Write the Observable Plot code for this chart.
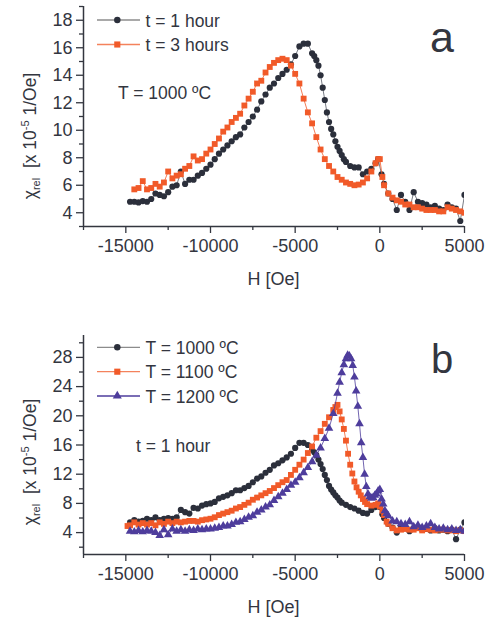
<!DOCTYPE html>
<html><head><meta charset="utf-8">
<script src="https://cdn.jsdelivr.net/npm/d3@7"></script>
<script src="https://cdn.jsdelivr.net/npm/@observablehq/plot@0.6"></script>
<style>
body{margin:0;background:#fff;width:489px;height:627px;position:relative;overflow:hidden;font-family:"Liberation Sans",Arial,sans-serif}
#a{position:absolute;left:0;top:0}
#b{position:absolute;left:0;top:320px}
</style></head><body><div id="a"></div><div id="b"></div>
<script>
// ---------- data ----------
const xDomain = [-17500, 5000];
const xMajor = [-15000, -10000, -5000, 0, 5000];
const xMinor = [-17500, -12500, -7500, -2500, 2500];
const yDomainA = [3, 19];
const yMajorA = [4, 6, 8, 10, 12, 14, 16, 18];
const yMinorA = [3, 5, 7, 9, 11, 13, 15, 17, 19];
const yDomainB = [1, 31];
const yMajorB = [4, 8, 12, 16, 20, 24, 28];
const yMinorB = [2, 6, 10, 14, 18, 22, 26, 30];

const legendA = ["t = 1 hour", "t = 3 hours"];
const noteA = "T = 1000 ºC";
const legendB = ["T = 1000 ºC", "T = 1100 ºC", "T = 1200 ºC"];
const noteB = "t = 1 hour";
const xLabel = "H [Oe]";

// panel a, T = 1000 ºC, t = 1 hour  [H (Oe), chi_rel (1e-5 1/Oe)]
const a_t1 = [[-14750,4.8],[-14500,4.8],[-14250,4.75],[-14000,4.85],[-13750,4.8],[-13500,5.0],[-13250,5.4],[-13000,5.3],[-12750,5.2],[-12500,5.5],[-12250,5.9],[-12000,6.0],[-11750,7.0],[-11500,6.1],[-11250,6.4],[-11000,6.4],[-10750,6.7],[-10500,6.9],[-10250,7.2],[-10000,7.5],[-9750,7.9],[-9500,8.3],[-9250,8.6],[-9000,8.9],[-8750,9.2],[-8500,9.5],[-8250,9.7],[-8000,10.2],[-7750,10.6],[-7500,11.0],[-7250,11.5],[-7000,12.1],[-6750,12.6],[-6500,13.1],[-6250,13.4],[-6000,13.8],[-5750,14.1],[-5500,14.4],[-5250,14.8],[-5000,15.4],[-4750,16.1],[-4500,16.3],[-4250,16.3],[-4000,15.6],[-3875,15.4],[-3750,15.1],[-3625,14.7],[-3500,14.0],[-3375,13.1],[-3250,12.2],[-3125,11.3],[-3000,10.6],[-2875,10.1],[-2750,9.7],[-2625,9.2],[-2500,8.8],[-2375,8.5],[-2250,8.2],[-2125,7.9],[-2000,7.7],[-1750,7.4],[-1500,7.3],[-1250,7.3],[-1000,6.8],[-750,7.0],[-500,7.2],[-250,7.6],[-100,7.9],[100,6.8],[250,6.1],[500,5.4],[750,5.0],[1000,4.2],[1250,5.3],[1500,4.8],[1750,4.2],[2000,5.5],[2250,4.8],[2500,4.7],[2750,4.6],[3000,4.4],[3250,4.5],[3500,4.3],[3750,4.2],[4000,4.6],[4250,4.4],[4500,4.3],[4750,3.4],[5000,5.3]];

// panel a, T = 1000 ºC, t = 3 hours
const a_t3 = [[-14500,5.7],[-14250,5.8],[-14000,6.3],[-13750,5.7],[-13500,5.8],[-13250,6.1],[-13000,5.9],[-12750,6.2],[-12500,7.0],[-12250,6.5],[-12000,6.7],[-11750,6.8],[-11500,7.2],[-11250,7.4],[-11000,8.1],[-10750,7.8],[-10500,7.9],[-10250,8.3],[-10000,8.6],[-9750,9.0],[-9500,9.4],[-9250,9.9],[-9000,10.2],[-8750,10.6],[-8500,10.9],[-8250,11.2],[-8000,11.8],[-7750,12.3],[-7500,12.8],[-7250,13.4],[-7000,13.6],[-6750,14.2],[-6500,14.6],[-6250,14.9],[-6000,15.1],[-5750,15.2],[-5500,15.1],[-5250,14.7],[-5000,14.1],[-4750,13.4],[-4500,12.3],[-4250,11.3],[-4000,10.5],[-3750,9.5],[-3500,8.6],[-3250,7.9],[-3000,7.4],[-2750,7.0],[-2500,6.6],[-2250,6.4],[-2000,6.2],[-1750,6.1],[-1500,6.0],[-1250,6.05],[-1000,6.2],[-750,6.5],[-500,7.0],[-250,7.6],[-100,7.9],[0,7.9],[150,6.6],[250,6.0],[500,5.4],[750,5.1],[1000,4.9],[1250,4.8],[1500,4.6],[1750,4.6],[2000,4.4],[2250,4.4],[2500,4.3],[2750,4.2],[3000,4.2],[3250,4.2],[3500,4.1],[3750,4.1],[4000,4.4],[4250,4.3],[4500,4.2],[4750,4.1],[5000,4.0]];

// panel b, t = 1 hour, T = 1000 ºC
const b_1000 = [[-14750,5.4],[-14500,5.7],[-14250,5.5],[-14000,5.6],[-13750,5.9],[-13500,5.7],[-13250,6.1],[-13000,5.7],[-12750,5.9],[-12500,6.0],[-12250,5.9],[-12000,6.1],[-11750,7.1],[-11500,6.8],[-11250,6.6],[-11000,7.4],[-10750,7.3],[-10500,7.7],[-10250,7.9],[-10000,8.0],[-9750,8.2],[-9500,8.7],[-9250,8.9],[-9000,9.1],[-8750,9.4],[-8500,9.8],[-8250,9.8],[-8000,10.1],[-7750,10.4],[-7500,10.9],[-7250,11.4],[-7000,11.7],[-6750,12.2],[-6500,12.6],[-6250,13.2],[-6000,13.5],[-5750,13.9],[-5500,14.3],[-5250,14.8],[-5000,15.6],[-4750,16.3],[-4500,16.3],[-4250,16.0],[-4000,15.4],[-3875,15.0],[-3750,14.6],[-3625,14.0],[-3500,13.4],[-3375,12.7],[-3250,11.9],[-3125,11.2],[-3000,10.4],[-2875,9.9],[-2750,9.5],[-2625,9.1],[-2500,8.8],[-2375,8.4],[-2250,8.1],[-2000,7.8],[-1750,7.5],[-1500,7.3],[-1250,7.0],[-1000,6.7],[-750,6.6],[-500,7.1],[-250,7.5],[-100,7.7],[0,7.5],[150,6.5],[250,6.0],[500,5.2],[750,4.7],[1000,4.0],[1250,4.9],[1500,4.6],[1750,4.2],[2000,4.6],[2250,4.8],[2500,4.4],[2750,4.5],[3000,4.3],[3250,4.6],[3500,4.3],[3750,4.4],[4000,4.2],[4250,4.4],[4500,3.1],[4750,4.4],[5000,5.4]];

// panel b, t = 1 hour, T = 1100 ºC
const b_1100 = [[-14900,4.9],[-14750,5.0],[-14500,5.4],[-14250,5.1],[-14000,5.3],[-13750,5.1],[-13500,5.3],[-13250,5.0],[-13000,5.4],[-12750,5.2],[-12500,5.5],[-12250,5.3],[-12000,5.5],[-11750,5.4],[-11500,5.5],[-11250,5.6],[-11000,5.6],[-10750,5.5],[-10500,5.7],[-10250,5.8],[-10000,5.9],[-9750,6.1],[-9500,6.4],[-9250,6.6],[-9000,6.8],[-8750,7.0],[-8500,7.3],[-8250,7.5],[-8000,7.8],[-7750,8.1],[-7500,8.5],[-7250,8.8],[-7000,9.1],[-6750,9.4],[-6500,9.7],[-6250,10.1],[-6000,10.5],[-5750,10.9],[-5500,11.2],[-5250,11.9],[-5000,12.6],[-4750,13.3],[-4500,14.0],[-4250,14.9],[-4000,15.8],[-3750,17.0],[-3500,17.9],[-3250,18.9],[-3000,19.8],[-2750,20.8],[-2625,21.2],[-2500,21.5],[-2375,20.6],[-2250,19.5],[-2125,18.2],[-2000,16.6],[-1875,14.8],[-1750,13.3],[-1625,12.1],[-1500,11.0],[-1375,10.2],[-1250,9.6],[-1125,9.1],[-1000,8.6],[-875,8.2],[-750,7.9],[-500,7.7],[-250,7.8],[-100,8.0],[0,7.6],[150,7.0],[250,6.4],[400,5.5],[500,5.2],[750,4.6],[1000,4.3],[1250,4.4],[1500,4.5],[1750,4.4],[2000,4.4],[2250,4.6],[2500,4.3],[2750,4.5],[3000,4.4],[3250,4.3],[3500,4.4],[3750,4.4],[4000,4.3],[4250,4.3],[4500,4.2],[4750,4.3],[5000,4.2]];

// panel b, t = 1 hour, T = 1200 ºC
const b_1200 = [[-14750,4.2],[-14500,4.1],[-14250,4.3],[-14000,4.1],[-13750,4.3],[-13500,4.2],[-13250,4.0],[-13000,3.6],[-12750,4.4],[-12500,3.7],[-12250,4.5],[-12000,4.2],[-11750,4.4],[-11500,4.2],[-11250,4.4],[-11000,4.3],[-10750,4.5],[-10500,4.4],[-10250,4.5],[-10000,4.5],[-9750,4.6],[-9500,4.7],[-9250,4.9],[-9000,4.9],[-8750,5.1],[-8500,5.4],[-8250,5.5],[-8000,5.8],[-7750,6.1],[-7500,6.3],[-7250,6.8],[-7000,7.1],[-6750,7.5],[-6500,7.8],[-6250,8.4],[-6000,8.9],[-5750,9.4],[-5500,9.9],[-5250,10.5],[-5000,10.9],[-4750,11.5],[-4500,12.2],[-4250,12.9],[-4000,13.7],[-3750,14.6],[-3500,15.6],[-3250,16.9],[-3000,18.3],[-2750,20.3],[-2500,23.1],[-2375,24.6],[-2250,25.9],[-2125,27.0],[-2000,27.8],[-1900,28.3],[-1800,28.2],[-1700,27.8],[-1600,26.9],[-1500,25.3],[-1400,23.4],[-1300,21.3],[-1200,18.9],[-1100,16.3],[-1000,14.3],[-900,12.0],[-800,10.3],[-700,9.3],[-600,8.9],[-500,8.7],[-400,8.8],[-300,9.1],[-200,9.3],[-100,9.7],[0,9.9],[100,8.6],[200,7.9],[300,7.0],[400,6.6],[500,6.3],[750,5.6],[1000,5.5],[1250,5.2],[1500,5.1],[1750,5.5],[2000,4.8],[2250,5.0],[2500,4.7],[2750,4.9],[3000,5.2],[3250,4.7],[3500,4.5],[3750,4.6],[4000,4.4],[4250,4.5],[4500,4.3],[4750,4.4],[5000,4.2]];

// ---------- style ----------
const FONT = '"Liberation Sans", Arial, Helvetica, sans-serif';
const INK = "#33363f";
const DARK = "#2b2f3b", ORANGE = "#f15a29", PURPLE = "#4e3d9c";

function drawPanel(el, cfg) {
  const chart = Plot.plot({
    width: 489, height: cfg.height,
    marginLeft: 83, marginRight: 25, marginTop: cfg.mt, marginBottom: cfg.mb,
    style: {fontFamily: FONT, fontSize: "18px", color: INK, background: "transparent", overflow: "visible"},
    x: {domain: xDomain},
    y: {domain: cfg.yDomain},
    marks: [
      Plot.axisX({ticks: xMajor, tickSize: 7, tickPadding: 6, tickFormat: d => String(d), label: null, strokeWidth: 1.3}),
      Plot.axisX({ticks: xMinor, tickSize: 4, tickFormat: () => "", label: null, strokeWidth: 1.3}),
      Plot.axisY({ticks: cfg.yMajor, tickSize: 7, tickPadding: 4, tickFormat: d => String(d), label: null, strokeWidth: 1.3}),
      Plot.axisY({ticks: cfg.yMinor, tickSize: 4, tickFormat: () => "", label: null, strokeWidth: 1.3}),
      Plot.ruleX([xDomain[0]], {stroke: INK, strokeWidth: 1.5}),
      Plot.ruleY([cfg.yDomain[0]], {stroke: INK, strokeWidth: 1.5}),
      ...cfg.series.flatMap(s => [
        Plot.line(s.data, {x: d => d[0], y: d => d[1], stroke: s.line, strokeWidth: 0.8, clip: true}),
        Plot.dot(s.data, {x: d => d[0], y: d => d[1], symbol: s.symbol, r: s.r, fill: s.color, stroke: "none", clip: true})
      ])
    ]
  });
  const svg = d3.select(chart);
  // y label
  const yl = svg.append("text")
    .attr("transform", `translate(${cfg.ylx},${cfg.yly}) rotate(-90)`)
    .attr("text-anchor", "middle").attr("fill", INK)
    .style("font-size", "17.5px").style("font-family", FONT);
  yl.append("tspan").text("χ");
  yl.append("tspan").attr("dy", 4).style("font-size", "11px").text("rel");
  yl.append("tspan").attr("dy", -4).text("\u00a0\u00a0[x 10");
  yl.append("tspan").attr("dy", -7).style("font-size", "11px").text("-5");
  yl.append("tspan").attr("dy", 7).text(" 1/Oe]");
  // x label
  svg.append("text").attr("x", 273.5).attr("y", cfg.xly).attr("text-anchor", "middle")
    .attr("fill", INK).style("font-size", "18px").style("font-family", FONT).text(xLabel);
  // legend
  cfg.series.forEach((s, i) => {
    const cy = cfg.legY[i];
    svg.append("line").attr("x1", 97).attr("x2", 140).attr("y1", cy).attr("y2", cy)
      .attr("stroke", s.legLine).attr("stroke-width", 1.3);
    svg.append("path").attr("transform", `translate(117.3,${cy})`)
      .attr("d", d3.symbol().type(s.d3sym).size(Math.PI * s.r * s.r * 1.1)()).attr("fill", s.color);
    svg.append("text").attr("x", 145.5).attr("y", cy + 6.5).attr("fill", INK).attr("text-anchor", "start")
      .style("font-size", "17.5px").style("font-family", FONT).text(s.label);
  });
  // note
  svg.append("text").attr("x", cfg.noteX).attr("y", cfg.noteY).attr("fill", INK).attr("text-anchor", "start")
    .style("font-size", "17.5px").style("font-family", FONT).text(cfg.note);
  // panel letter
  svg.append("text").attr("x", cfg.letX).attr("y", cfg.letY).attr("fill", INK).attr("text-anchor", "start")
    .style("font-size", cfg.letSize).style("font-family", FONT).text(cfg.letter);
  el.appendChild(chart);
}

drawPanel(document.getElementById("a"), {
  height: 300, mt: 6, mb: 74, yDomain: yDomainA, yMajor: yMajorA, yMinor: yMinorA,
  ylx: 36, yly: 136, xly: 285, legY: [20, 44.5], note: noteA, noteX: 118, noteY: 99.3,
  letter: "a", letX: 430, letY: 51.7, letSize: "43px",
  series: [
    {data: a_t1, label: legendA[0], color: DARK, line: "#555a66", legLine: "#8c8c8c", symbol: "circle", d3sym: d3.symbolCircle, r: 3.1},
    {data: a_t3, label: legendA[1], color: ORANGE, line: ORANGE, legLine: "#f4825c", symbol: "square", d3sym: d3.symbolSquare, r: 3.3}
  ]
});
drawPanel(document.getElementById("b"), {
  height: 307, mt: 15, mb: 73, yDomain: yDomainB, yMajor: yMajorB, yMinor: yMinorB,
  ylx: 36, yly: 142, xly: 293, legY: [27.3, 51.7, 76], note: noteB, noteX: 136, noteY: 131.7,
  letter: "b", letX: 431, letY: 53.3, letSize: "40px",
  series: [
    {data: b_1000, label: legendB[0], color: DARK, line: "#555a66", legLine: "#8c8c8c", symbol: "circle", d3sym: d3.symbolCircle, r: 3.1},
    {data: b_1100, label: legendB[1], color: ORANGE, line: ORANGE, legLine: "#f4825c", symbol: "square", d3sym: d3.symbolSquare, r: 3.3},
    {data: b_1200, label: legendB[2], color: PURPLE, line: PURPLE, legLine: PURPLE, symbol: "triangle", d3sym: d3.symbolTriangle, r: 3.2}
  ]
});
</script></body></html>
